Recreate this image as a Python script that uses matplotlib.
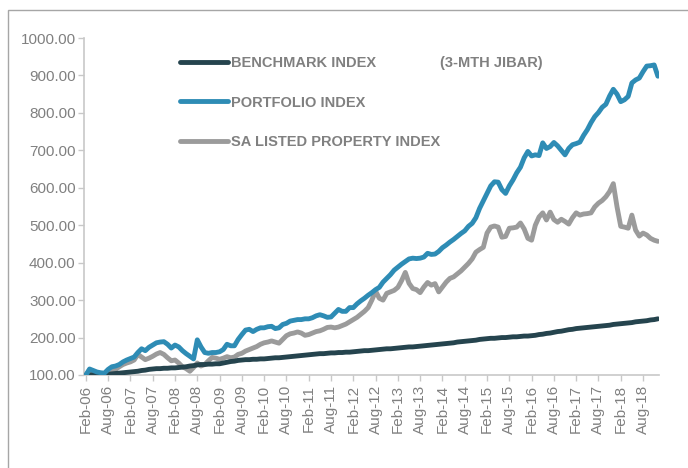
import matplotlib
matplotlib.use("Agg")
import matplotlib.pyplot as plt
from matplotlib.patches import Rectangle

plt.rcParams["font.family"] = ["Liberation Sans", "DejaVu Sans"]

# monthly index values, Feb-06 .. Dec-18
benchmark = [
    100, 100, 101, 101, 101, 102, 102,
    103, 104, 105, 106, 107, 108,
    109, 110, 112, 113, 115, 116,
    117, 117, 118, 118, 119, 119,
    120, 121, 122, 124, 125, 127,
    128, 128, 129, 129, 130, 130,
    132, 134, 136, 137, 139, 140,
    141, 141, 142, 142, 143, 143,
    144, 145, 146, 146, 147, 148,
    149, 150, 151, 152, 153, 154,
    155, 156, 157, 157, 158, 159,
    159, 160, 160, 161, 161, 162,
    163, 164, 165, 165, 166, 167,
    168, 169, 170, 170, 171, 172,
    173, 174, 175, 175, 176, 177,
    178, 179, 180, 181, 182, 183,
    184, 185, 186, 188, 189, 190,
    191, 192, 193, 195, 196, 197,
    198, 198, 199, 200, 200, 201,
    202, 202, 203, 204, 204, 205,
    206, 208, 209, 211, 212, 214,
    216, 217, 219, 221, 222, 224,
    225, 226, 227, 228, 229, 230,
    231, 232, 233, 235, 236, 237,
    238, 239, 240, 242, 243, 244,
    245, 247, 248, 250,
]

portfolio = [
    100, 116, 112, 108, 106, 105, 115, 122, 124, 128,
    135, 140, 144, 148, 160, 170, 165, 174, 180, 186,
    188, 189, 182, 172, 180, 175, 165, 157, 150, 143,
    194, 175, 160, 158, 160, 160, 162, 168, 182, 178,
    178, 195, 208, 220, 222, 216, 222, 226, 226, 229,
    230, 224, 226, 235, 238, 244, 246, 248, 248, 250,
    250, 253, 258, 261, 258, 254, 255, 265, 275, 270,
    270, 280, 280, 290, 298, 305, 313, 320, 328, 334,
    348, 358, 368, 380, 388, 396, 403, 410, 412, 411,
    412, 415, 425, 422, 423, 430, 440, 447, 455, 462,
    470, 478, 485, 497, 505, 520, 545, 565, 585, 605,
    616, 615, 595, 585, 605, 621, 640, 655, 680, 697,
    685, 688, 686, 720, 705, 710, 721, 712, 700, 688,
    705, 715, 718, 722, 740, 755, 774, 790, 801, 815,
    823, 845, 863, 850, 830, 835, 844, 880, 888, 893,
    910, 925, 926, 928, 898,
]

property_idx = [
    100, 113, 110, 102, 98, 97, 102, 107, 115, 122,
    128, 132, 135, 140, 155, 148, 141, 145, 150, 156,
    160, 155, 146, 138, 140, 132, 122, 117, 110, 120,
    132, 124, 128, 138, 147, 145, 142, 145, 149, 146,
    148, 155, 158, 164, 168, 172, 176, 182, 186, 188,
    191, 188, 185, 195, 205, 210, 212, 215, 212, 206,
    208, 212, 216, 218, 222, 227, 228, 226, 228, 232,
    236, 242, 248, 254, 262, 270, 280, 300, 324, 305,
    300, 318, 322, 326, 334, 352, 374, 345, 331, 328,
    320, 335, 347, 340, 344, 322, 335, 348, 358, 362,
    370, 378, 388, 398, 410, 428, 435, 441, 479, 495,
    498, 495, 468, 470, 492, 493, 495, 506, 490, 465,
    460, 500, 522, 533, 514, 535, 515, 508, 516, 510,
    503, 520, 533, 527, 530, 531, 533, 549, 559, 566,
    576, 590, 611, 549, 497, 495, 492, 527, 487, 471,
    479, 474, 465, 460, 457,
]

tick_labels = [
    "Feb-06", "Aug-06", "Feb-07", "Aug-07", "Feb-08", "Aug-08", "Feb-09",
    "Aug-09", "Feb-10", "Aug-10", "Feb-11", "Aug-11", "Feb-12", "Aug-12",
    "Feb-13", "Aug-13", "Feb-14", "Aug-14", "Feb-15", "Aug-15", "Feb-16",
    "Aug-16", "Feb-17", "Aug-17", "Feb-18", "Aug-18",
]

c_bench = "#25444e"
c_port = "#2e8cb5"
c_prop = "#9b9b9b"
c_text = "#808080"
c_axis = "#c8c8c8"

fig = plt.figure(figsize=(6.88, 4.68), dpi=100)
ax = fig.add_axes([84 / 688, 1 - 375 / 468, (659 - 84) / 688, (375 - 38) / 468])

x = list(range(len(portfolio)))
ax.plot(x, benchmark, color=c_bench, lw=3.5, solid_capstyle="round", label="BENCHMARK INDEX", zorder=3)
ax.plot(x, portfolio, color=c_port, lw=3.5, solid_capstyle="round", label="PORTFOLIO INDEX", zorder=3)
ax.plot(x, property_idx, color=c_prop, lw=3.5, solid_capstyle="round", label="SA LISTED PROPERTY INDEX", zorder=2)

ax.set_xlim(-0.5, 154.3)
ax.set_ylim(100, 1000)
ax.set_yticks(range(100, 1001, 100))
ax.set_yticklabels(["{:.2f}".format(v) for v in range(100, 1001, 100)])
ax.set_xticks(range(0, 6 * len(tick_labels), 6))
ax.set_xticklabels(tick_labels, rotation=90)

ax.spines["top"].set_visible(False)
ax.spines["right"].set_visible(False)
ax.spines["left"].set_color(c_axis)
ax.spines["bottom"].set_color(c_axis)
ax.spines["left"].set_linewidth(1.2)
ax.spines["bottom"].set_linewidth(1.2)
ax.tick_params(axis="both", colors=c_axis, labelcolor=c_text, labelsize=11, length=4, width=1)
ax.tick_params(axis="y", pad=2)
ax.tick_params(axis="x", pad=3)

leg = ax.legend(
    loc="upper left",
    bbox_to_anchor=(180 / 688, 1 - 56 / 468),
    bbox_transform=fig.transFigure,
    frameon=False,
    borderpad=0,
    borderaxespad=0,
    handlelength=3.3,
    handletextpad=0.2,
    labelspacing=1.75,
    prop={"weight": "bold", "size": 10.5},
)
for t in leg.get_texts():
    t.set_color(c_text)
fig.text(440 / 688, 1 - 63 / 468, "(3-MTH JIBAR)", color=c_text, fontsize=10.5,
         fontweight="bold", va="center", ha="left")

# outer chart border
fig.patches.append(Rectangle((8 / 688, -0.1), 1.2, 1.1 - 10 / 468, transform=fig.transFigure,
                             fill=False, edgecolor="#a6a6a6", lw=1, clip_on=False))

fig.savefig("out.png", dpi=100)
